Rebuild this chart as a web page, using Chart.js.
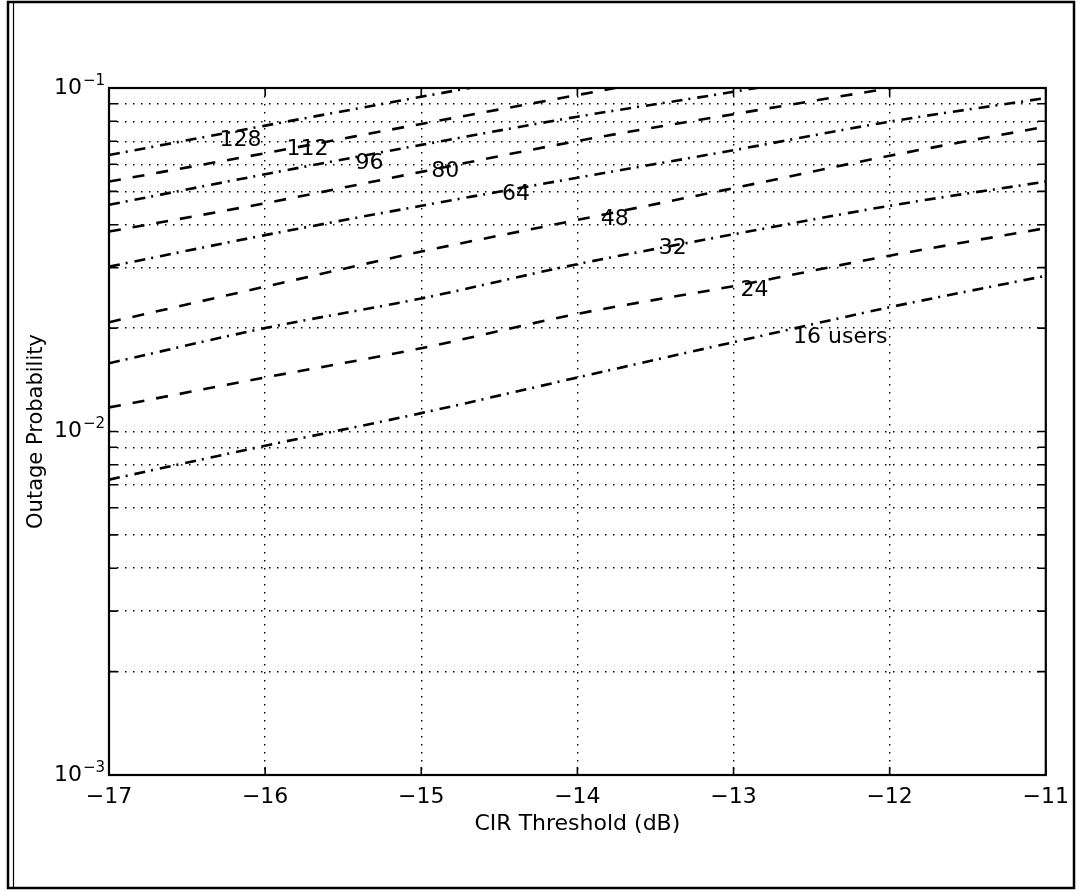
<!DOCTYPE html>
<html><head><meta charset="utf-8">
<script src="https://cdn.jsdelivr.net/npm/chart.js@4.4.1/dist/chart.umd.min.js"></script>
<style>html,body{margin:0;padding:0;background:#fff;} canvas{display:block;}</style>
</head><body>
<canvas id="c" width="1078" height="890"></canvas>
<script>
// ---- data ----
const cirThreshold = [-17, -16, -15, -14, -13, -12, -11];
const users128 = [0.0638, 0.0777, 0.0943, 0.114];
const users112 = [0.0534, 0.0646, 0.0786, 0.0954, 0.116];
const users96  = [0.0457, 0.0561, 0.0683, 0.0825, 0.0975, 0.117];
const users80  = [0.0382, 0.0462, 0.0570, 0.0701, 0.0839, 0.0998, 0.118];
const users64  = [0.0302, 0.0373, 0.0454, 0.0548, 0.0659, 0.0798, 0.0935];
const users48  = [0.0208, 0.0264, 0.0334, 0.0413, 0.0511, 0.0635, 0.0772];
const users32  = [0.0158, 0.0200, 0.0244, 0.0307, 0.0375, 0.0454, 0.0534];
const users24  = [0.01175, 0.01436, 0.01748, 0.0220, 0.0265, 0.0325, 0.0391];
const users16  = [0.00724, 0.00909, 0.01131, 0.01436, 0.0182, 0.0230, 0.0284];

const seriesNames = ['128', '112', '96', '80', '64', '48', '32', '24', '16 users'];
const seriesValues = [users128, users112, users96, users80, users64, users48, users32, users24, users16];

const xTickValues = [-17, -16, -15, -14, -13, -12, -11];
const yTickValues = [0.001,0.002,0.003,0.004,0.005,0.006,0.007,0.008,0.009,
                     0.01,0.02,0.03,0.04,0.05,0.06,0.07,0.08,0.09,0.1];
// y tick labels: base and exponent (shown as 10^exp at the decades)
const yTickBase = ['10','','','','','','','','','10','','','','','','','','','10'];
const yTickExp  = ['\u22123','','','','','','','','','\u22122','','','','','','','','','\u22121'];

// in-plot curve labels: text, anchor in data units (dB, probability)
const labelText = ['128', '112', '96', '80', '64', '48', '32', '24', '16 users'];
const labelDb   = [-16.157, -15.728, -15.332, -14.847, -14.393, -13.760, -13.390, -12.866, -12.316];
const labelProb = [0.0706, 0.0665, 0.0605, 0.0573, 0.0491, 0.0416, 0.0342, 0.0258, 0.01886];

// ---- styling ----
const FONT = '"DejaVu Sans", "Liberation Sans", sans-serif';
const DASHED = [12, 12];
const DASHDOT = [11, 6, 2, 7];

const datasets = seriesNames.map((name, k) => ({
  label: name,
  data: seriesValues[k].map((v, i) => ({x: cirThreshold[i], y: v})),
  borderColor: '#000',
  borderWidth: 2.6,
  borderDash: k % 2 === 0 ? DASHDOT : DASHED,
  pointRadius: 0,
  fill: false,
  tension: 0,
  cubicInterpolationMode: 'monotone'
}));

const decorPlugin = {
  id: 'decor',
  beforeDraw(chart) {
    const c = chart.ctx;
    c.save(); c.fillStyle = '#fff'; c.fillRect(0, 0, chart.width, chart.height); c.restore();
  },
  afterDatasetsDraw(chart) {
    const {ctx, chartArea: a, scales: {x, y}} = chart;
    ctx.save();
    ctx.setLineDash([]);
    ctx.strokeStyle = '#000';
    // inward tick marks on all four sides
    ctx.lineWidth = 1.6;
    ctx.beginPath();
    const L = 8;
    yTickValues.forEach(v => {
      const py = y.getPixelForValue(v);
      ctx.moveTo(a.left, py); ctx.lineTo(a.left + L, py);
      ctx.moveTo(a.right, py); ctx.lineTo(a.right - L, py);
    });
    xTickValues.forEach(v => {
      const px = x.getPixelForValue(v);
      ctx.moveTo(px, a.bottom); ctx.lineTo(px, a.bottom - L);
      ctx.moveTo(px, a.top); ctx.lineTo(px, a.top + L);
    });
    ctx.stroke();
    // axes box
    ctx.lineWidth = 2.2;
    ctx.strokeRect(a.left, a.top, a.right - a.left, a.bottom - a.top);
    ctx.fillStyle = '#000';
    // exponents of the y tick labels
    ctx.font = '15px ' + FONT;
    ctx.textAlign = 'left';
    ctx.textBaseline = 'middle';
    yTickValues.forEach((v, i) => {
      if (yTickExp[i]) ctx.fillText(yTickExp[i], a.left - 26, y.getPixelForValue(v) - 7);
    });
    // curve labels
    ctx.font = '22px ' + FONT;
    ctx.textAlign = 'center';
    labelText.forEach((t, i) => {
      ctx.fillText(t, x.getPixelForValue(labelDb[i]), y.getPixelForValue(labelProb[i]));
    });
    // figure frame
    ctx.lineWidth = 2.5;
    ctx.strokeRect(8, 2, 1066, 886);
    ctx.lineWidth = 1.2;
    ctx.beginPath(); ctx.moveTo(13.5, 2); ctx.lineTo(13.5, 888); ctx.stroke();
    ctx.restore();
  }
};

const gridCommon = {color: '#000', lineWidth: 1.4, drawTicks: false};
const borderCommon = {display: false, dash: [1.5, 6.5]};

new Chart(document.getElementById('c'), {
  type: 'line',
  data: {datasets},
  options: {
    responsive: false,
    animation: false,
    devicePixelRatio: 1,
    layout: {padding: {left: 0, top: 88, right: 30, bottom: 0}},
    plugins: {legend: {display: false}, tooltip: {enabled: false}},
    scales: {
      x: {
        type: 'linear',
        min: -17, max: -11,
        afterBuildTicks: s => { s.ticks = xTickValues.map(v => ({value: v})); },
        afterFit: s => { s.height = 115; },
        grid: gridCommon,
        border: borderCommon,
        ticks: {
          color: '#000', font: {family: FONT, size: 22}, padding: 9,
          autoSkip: false, maxRotation: 0,
          callback: v => String(v).replace('-', '\u2212')
        },
        title: {display: true, text: 'CIR Threshold (dB)', color: '#000',
                font: {family: FONT, size: 22}, padding: {top: 0, bottom: 53}}
      },
      y: {
        type: 'logarithmic',
        min: 0.001, max: 0.1,
        afterBuildTicks: s => { s.ticks = yTickValues.map(v => ({value: v})); },
        afterFit: s => { s.width = 109; },
        grid: gridCommon,
        border: borderCommon,
        ticks: {
          color: '#000', font: {family: FONT, size: 22}, padding: 27,
          autoSkip: false,
          callback: (v, i) => yTickBase[i]
        },
        title: {display: true, text: 'Outage Probability', color: '#000',
                font: {family: FONT, size: 21}, padding: {top: 24, bottom: 0}}
      }
    }
  },
  plugins: [decorPlugin]
});
</script>
</body></html>
